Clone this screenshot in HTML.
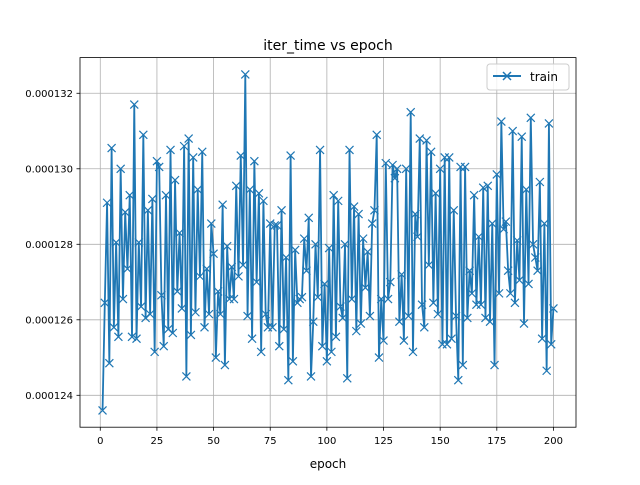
<!DOCTYPE html>
<html><head><meta charset="utf-8"><style>
body{margin:0;background:#fff;}
svg text{font-family:"DejaVu Sans","Liberation Sans",sans-serif;}
</style></head><body>
<svg id="chart" width="640" height="480" xmlns="http://www.w3.org/2000/svg">
<rect width="640" height="480" fill="#fff"/>
<text x="328" y="50" font-size="14" text-anchor="middle" fill="#000">iter_time vs epoch</text>
<g id="grid"></g>
<g id="series"></g>
<rect x="80" y="57.6" width="496" height="369.6" fill="none" stroke="#000" stroke-width="0.8"/>
<g id="ticks"></g>
<text x="328" y="468" font-size="12" text-anchor="middle">epoch</text>
<g>
<rect x="487" y="64" width="82" height="26" rx="3" fill="#fff" fill-opacity="0.8" stroke="#ccc"/>
<line x1="493" y1="76" x2="521" y2="76" stroke="#1f77b4" stroke-width="2"/>
<path d="M503,72 l8,8 M511,72 l-8,8" stroke="#1f77b4" stroke-width="1.5"/>
<text x="530" y="81" font-size="12">train</text>
</g>
</svg>
<script>
const epochs = Array.from({length:200},(_, i)=>i+1);
const iterTime = [
123.6,126.45,129.1,124.85,130.55,125.8,128.05,125.55,130.0,126.55,128.85,127.35,129.3,125.55,131.7,125.5,128.05,126.35,130.9,126.05,128.9,126.15,129.2,125.15,130.2,
130.05,126.65,125.3,129.3,125.75,130.5,125.65,129.7,126.75,128.3,126.3,130.6,124.5,130.8,125.6,130.3,126.2,129.45,127.15,130.45,125.8,127.35,126.15,128.55,
127.75,125.0,126.75,126.15,129.05,124.8,127.95,126.55,127.4,126.55,129.55,127.15,130.35,127.45,132.5,126.1,129.45,125.5,130.2,127.0,129.35,125.15,129.15,126.15,125.8,
128.55,125.8,128.5,128.5,125.3,128.9,125.75,127.65,124.4,130.35,124.9,127.85,126.45,126.55,126.6,128.15,127.3,128.7,124.5,125.95,128.0,126.6,130.5,125.3,126.95,124.9,
127.9,125.15,129.3,125.55,129.15,126.35,126.05,128.0,124.45,130.5,126.55,129.0,125.7,128.8,125.9,128.15,126.85,127.8,126.1,128.55,128.9,130.9,125.0,126.55,125.45,130.15,
126.55,127.0,130.1,129.75,130.0,125.95,127.2,125.45,130.0,126.1,131.5,125.15,128.8,128.2,130.8,126.4,125.8,130.75,127.45,130.45,126.45,129.35,126.15,130.0,125.35,130.3,
125.35,130.3,125.5,128.9,126.1,124.4,130.05,124.8,130.05,126.05,127.3,126.7,129.3,126.4,128.2,126.4,129.5,126.05,129.55,125.95,128.55,124.8,129.85,126.7,131.25,
128.4,128.6,127.3,126.7,131.0,126.45,128.1,127.05,130.85,125.9,129.45,126.95,131.35,128.0,127.65,127.3,129.65,125.5,128.55,124.65,131.2,125.35,126.3
];
const xTicks = [0,25,50,75,100,125,150,175,200];
const yTicks = [124,126,128,130,132];
const yTickLabels = ["0.000124","0.000126","0.000128","0.000130","0.000132"];

const L=80,R=576,T=57.6,B=427.2;
const xmin=1,xmax=epochs.length, xpad=(xmax-xmin)*0.05;
const ymin=Math.min(...iterTime), ymax=Math.max(...iterTime), ypad=(ymax-ymin)*0.05;
const X=v=>L+(v-(xmin-xpad))/((xmax+xpad)-(xmin-xpad))*(R-L);
const Y=v=>B-(v-(ymin-ypad))/((ymax+ypad)-(ymin-ypad))*(B-T);
const NS="http://www.w3.org/2000/svg";
const grid=document.getElementById('grid'), ticks=document.getElementById('ticks'), series=document.getElementById('series');
function mk(tag,attrs,parent){const e=document.createElementNS(NS,tag);for(const k in attrs)e.setAttribute(k,attrs[k]);parent.appendChild(e);return e;}
xTicks.forEach(t=>{
  const x=X(t);
  const g=mk('line',{x1:x,x2:x,y1:T,y2:B,stroke:'#b0b0b0','stroke-width':0.8},grid);
  
  
  mk('line',{x1:x,x2:x,y1:B,y2:B+3.5,stroke:'#000','stroke-width':0.8},ticks);
  const tx=mk('text',{x:x,y:B+17,'font-size':10,'text-anchor':'middle'},ticks);
  tx.textContent=t;
  
  
});
yTicks.forEach((t,i)=>{
  const y=Y(t);
  const g=mk('line',{x1:L,x2:R,y1:y,y2:y,stroke:'#b0b0b0','stroke-width':0.8},grid);
  
  
  mk('line',{x1:L-3.5,x2:L,y1:y,y2:y,stroke:'#000','stroke-width':0.8},ticks);
  const tx=mk('text',{x:L-7,y:y+3.5,'font-size':10,'text-anchor':'end'},ticks);
  tx.textContent=yTickLabels[i];
  
  
});
const pts=iterTime.map((v,i)=>[X(epochs[i]),Y(v)]);
const line=mk('polyline',{points:pts.map(p=>p.join(',')).join(' '),fill:'none',stroke:'#1f77b4','stroke-width':1.8,'stroke-linejoin':'round'},series);


pts.forEach(p=>{
  const m=mk('path',{d:`M${p[0]-4},${p[1]-4} l8,8 M${p[0]+4},${p[1]-4} l-8,8`,stroke:'#1f77b4','stroke-width':1.2},series);
  
  
});
</script>
</body></html>
